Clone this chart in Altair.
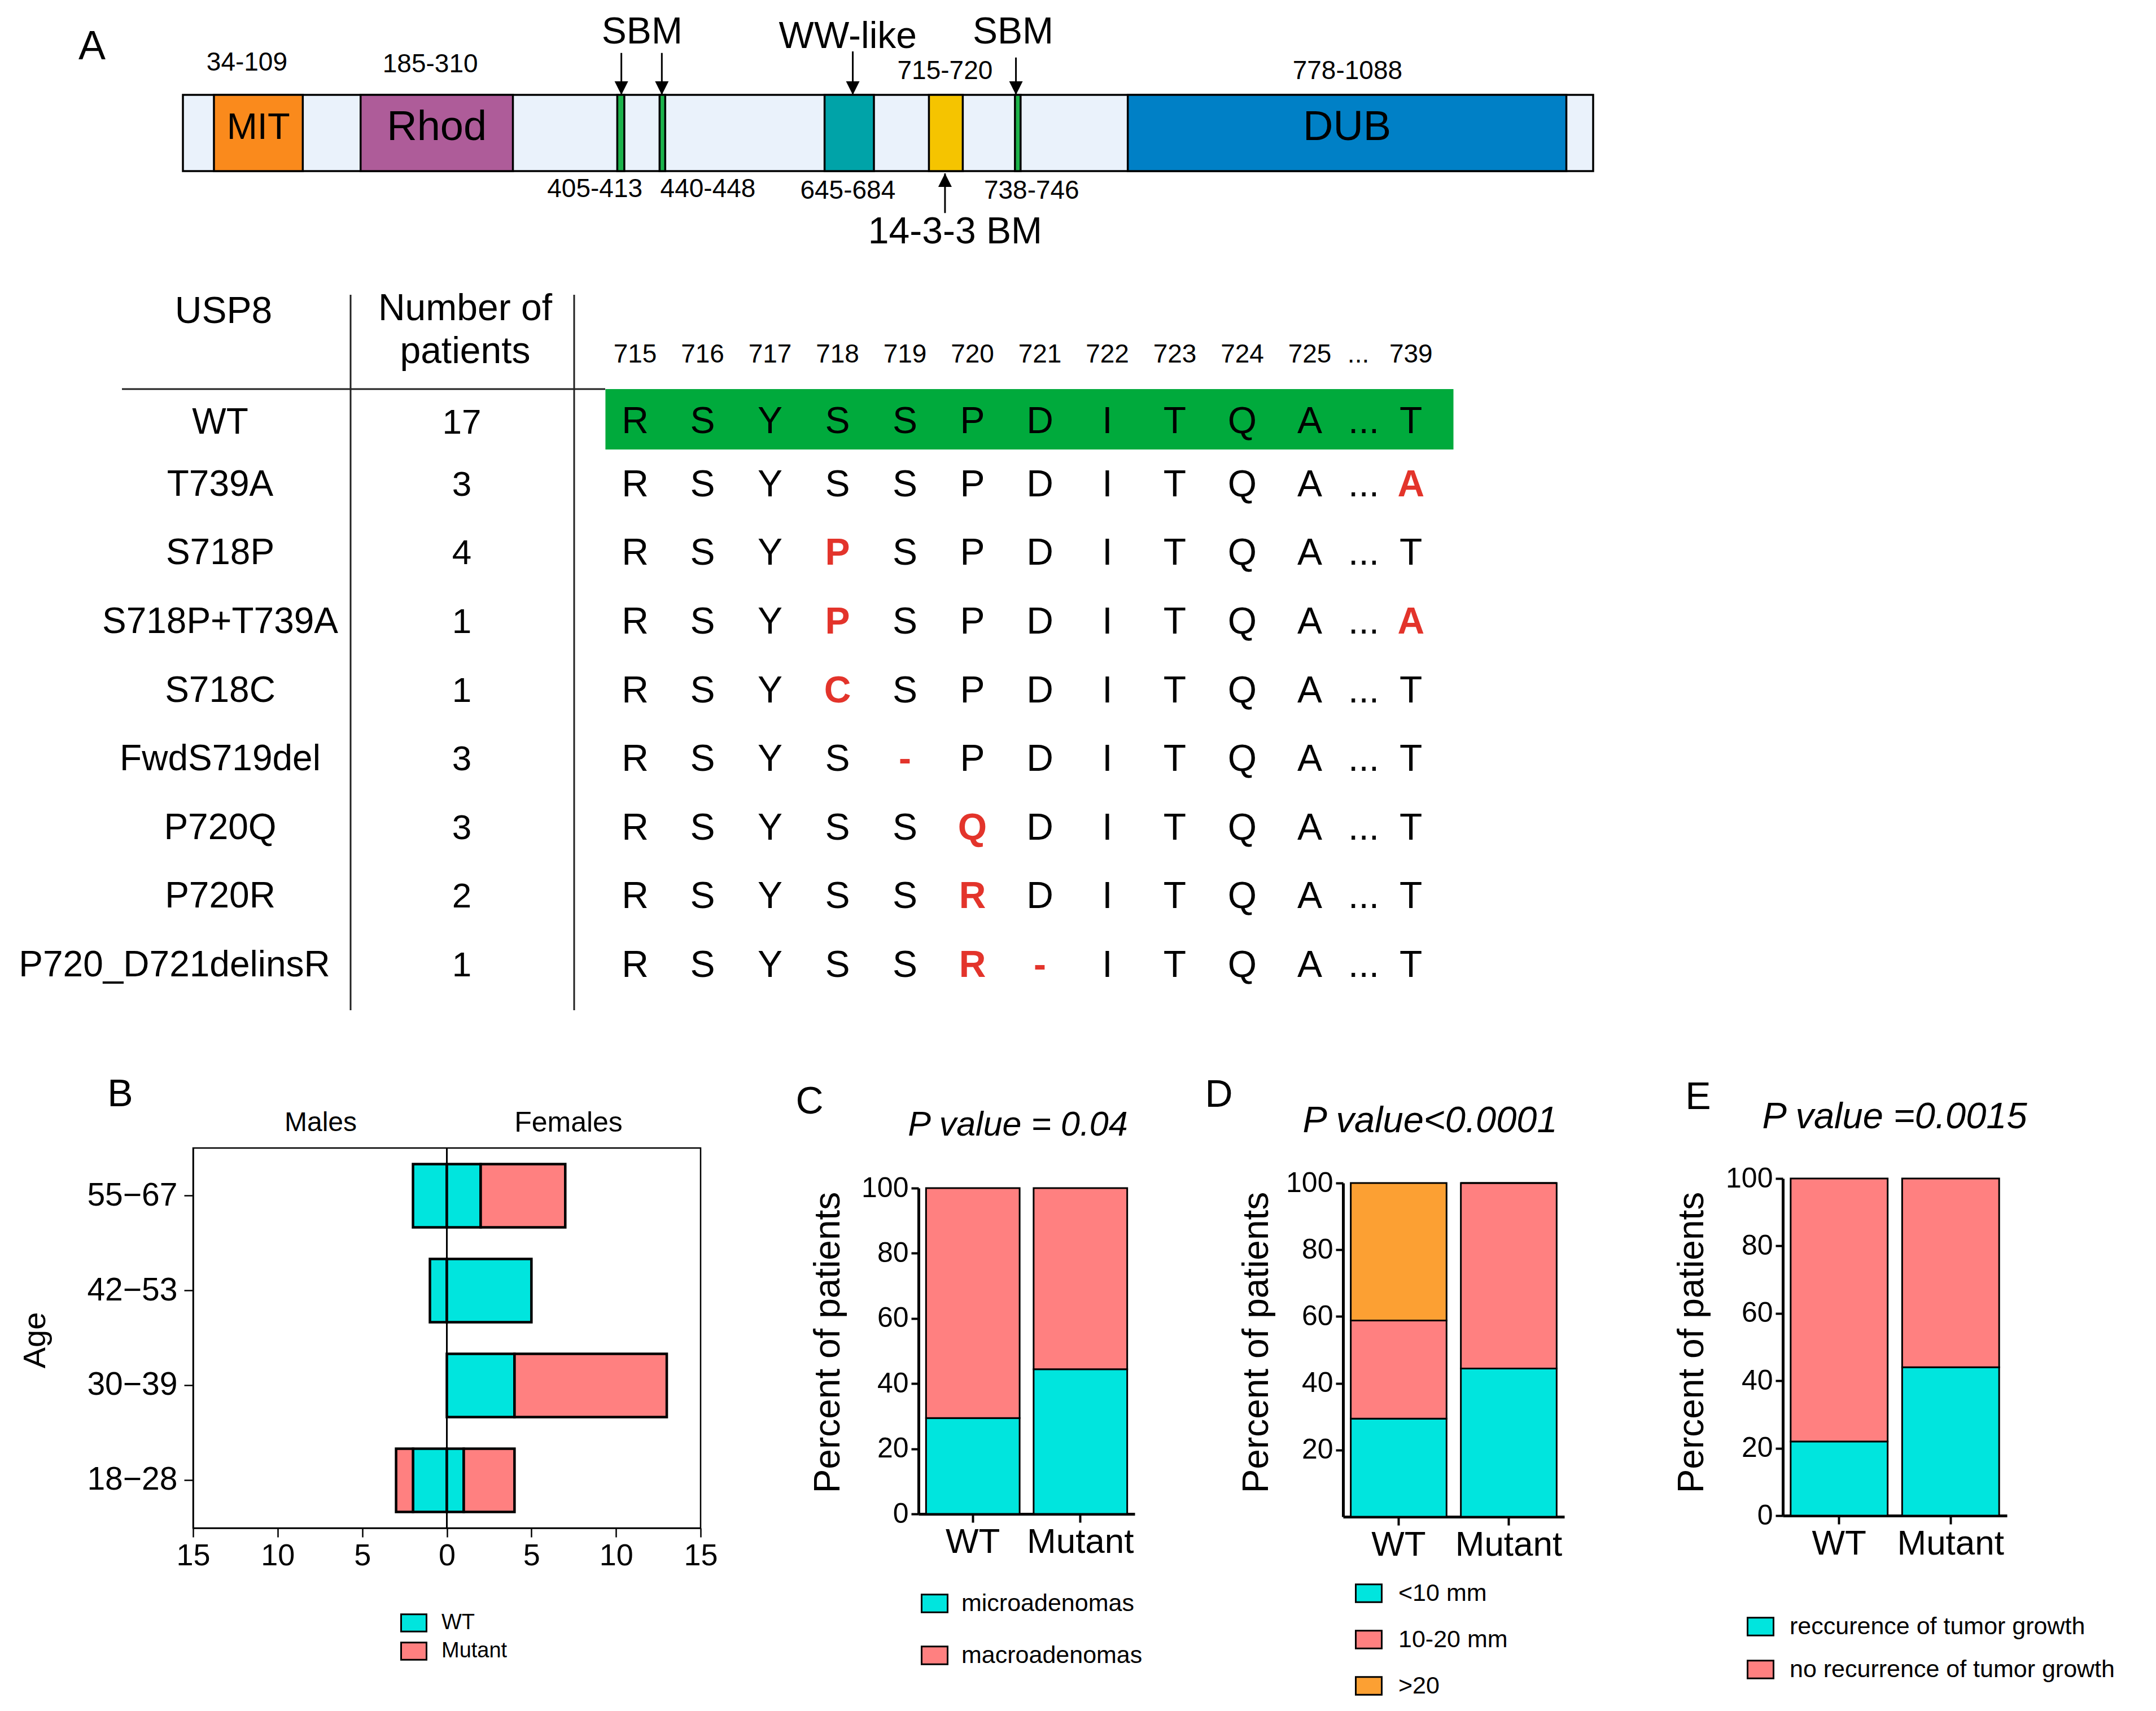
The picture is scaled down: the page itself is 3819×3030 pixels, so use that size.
import altair as alt
import pandas as pd

# ---------------- layout constants (reference pixel space) ----------------
W, H = 3803, 3014
OFF = 8


def P(v):
    return v - OFF


FONT = "Liberation Sans"
CYAN = "#00e5de"
SALMON = "#ff8080"
ORANGE = "#fca033"
RED = "#e3342b"
ROWGREEN = "#00aa3c"

# ---------------- Panel A : domain diagram data ----------------
dom_names = ["MIT", "Rhod", "SBM", "SBM", "WW-like", "14-3-3 BM", "SBM", "DUB"]
dom_start = [22, 126, 308, 338, 455, 529, 590, 670]      # schematic units (0-1000)
dom_end = [85, 234, 313, 342, 490, 553, 594, 981]
dom_color = ["#fa8a1c", "#ae5c99", "#1cb34b", "#1cb34b", "#00a3a8", "#f5c400", "#1cb34b", "#0080c6"]
dom_text = ["MIT", "Rhod", "", "", "", "", "", "DUB"]
dom_text_size = [65, 74, 0, 0, 0, 0, 0, 74]

range_text = ["34-109", "185-310", "715-720", "778-1088", "405-413", "440-448", "645-684", "738-746"]
range_x = [45.4, 175.4, 540.4, 825.8, 292.1, 372.3, 471.5, 601.8]
range_y = [1.42, 1.40, 1.31, 1.31, -0.235, -0.235, -0.257, -0.257]

motif_text = ["SBM", "WW-like", "SBM", "14-3-3 BM"]
motif_x = [325.6, 471.5, 588.7, 547.6]
motif_y = [1.82, 1.76, 1.82, -0.80]

arrow_x = [310.9, 339.6, 475.0, 590.7, 540.4]
arrow_tail = [1.55, 1.55, 1.57, 1.49, -0.55]
arrow_tip = [1.0, 1.0, 1.0, 1.0, -0.03]
arrow_dir = ["down", "down", "down", "down", "up"]

# ---------------- Table data ----------------
positions = ["715", "716", "717", "718", "719", "720", "721", "722", "723", "724", "725", "739"]
variants = ["WT", "T739A", "S718P", "S718P+T739A", "S718C", "FwdS719del", "P720Q", "P720R", "P720_D721delinsR"]
n_patients = [17, 3, 4, 1, 1, 3, 3, 2, 1]
sequences = ["RSYSSPDITQAT", "RSYSSPDITQAA", "RSYPSPDITQAT", "RSYPSPDITQAA", "RSYCSPDITQAT",
             "RSYS-PDITQAT", "RSYSSQDITQAT", "RSYSSRDITQAT", "RSYSSR-ITQAT"]

# ---------------- Panel B data ----------------
age_groups = ["55\u221267", "42\u221253", "30\u221239", "18\u221228"]
males_wt = [2, 1, 0, 2]
males_mut = [0, 0, 0, 1]
females_wt = [2, 5, 4, 1]
females_mut = [5, 0, 9, 3]
genotypes = ["WT", "Mutant"]

# ---------------- Panels C, D, E data ----------------
groups = ["WT", "Mutant"]
size_cats_C = ["microadenomas", "macroadenomas"]
micro_pct = [29.4, 44.4]
macro_pct = [70.6, 55.6]

size_cats_D = ["<10 mm", "10-20 mm", ">20"]
lt10_pct = [29.4, 44.4]
mid_pct = [29.4, 55.6]
gt20_pct = [41.2, 0.0]

cats_E = ["reccurence of tumor growth", "no recurrence of tumor growth"]
rec_pct = [22.0, 44.0]
norec_pct = [78.0, 56.0]

# =====================================================================
# Panel A
xA = alt.Scale(domain=[0, 1000], range=[P(324), P(2822)], nice=False, zero=False)
yA = alt.Scale(domain=[0, 1], range=[P(303), P(168)], nice=False, zero=False)


def XA(f):
    return alt.X(f, type="quantitative", scale=xA, axis=None)


def YA(f):
    return alt.Y(f, type="quantitative", scale=yA, axis=None)


bar_df = pd.DataFrame({"s": [0], "e": [1000], "b": [0], "t": [1]})
A_bg = alt.Chart(bar_df).mark_rect(fill="#eaf2fb", stroke="black", strokeWidth=3.5).encode(
    x=XA("s"), x2="e", y=YA("b"), y2="t")

dom_df = pd.DataFrame({"name": dom_names, "s": dom_start, "e": dom_end, "color": dom_color,
                       "label": dom_text, "fs": dom_text_size})
dom_df["b"] = 0
dom_df["t"] = 1
A_dom = alt.Chart(dom_df).mark_rect(stroke="black", strokeWidth=3.5).encode(
    x=XA("s"), x2="e", y=YA("b"), y2="t", fill=alt.Fill("color:N", scale=None, legend=None))
A_domtxt = alt.Chart(dom_df).transform_filter("datum.label != ''").transform_calculate(
    xc="(datum.s + datum.e) / 2", yc="0.57").mark_text(font=FONT, color="black").encode(
    x=XA("xc"), y=YA("yc"), text="label:N", size=alt.Size("fs:Q", scale=None, legend=None))

rng_df = pd.DataFrame({"t": range_text, "x": range_x, "y": range_y})
A_rng = alt.Chart(rng_df).mark_text(font=FONT, fontSize=46, color="black").encode(
    x=XA("x"), y=YA("y"), text="t:N")
mot_df = pd.DataFrame({"t": motif_text, "x": motif_x, "y": motif_y})
A_mot = alt.Chart(mot_df).mark_text(font=FONT, fontSize=66, color="black").encode(
    x=XA("x"), y=YA("y"), text="t:N")

arr_df = pd.DataFrame({"x": arrow_x, "y0": arrow_tail, "y1": arrow_tip, "dir": arrow_dir})
A_arrline = alt.Chart(arr_df).mark_rule(color="black", strokeWidth=3).encode(
    x=XA("x"), y=YA("y0"), y2="y1")
A_head_dn = alt.Chart(arr_df).transform_filter("datum.dir == 'down'").mark_point(
    shape="M-0.5,-1L0.5,-1L0,0Z", size=2304, filled=True, color="black", opacity=1).encode(
    x=XA("x"), y=YA("y1"))
A_head_up = alt.Chart(arr_df).transform_filter("datum.dir == 'up'").mark_point(
    shape="M-0.5,1L0.5,1L0,0Z", size=2304, filled=True, color="black", opacity=1).encode(
    x=XA("x"), y=YA("y1"))

panelA = alt.layer(A_bg, A_dom, A_domtxt, A_rng, A_mot, A_arrline, A_head_dn, A_head_up)

# =====================================================================
# Table
ROW0_PX, ROW8_PX = 737, 1710
ROW_STEP = (ROW8_PX - ROW0_PX) / 8.0


def rowu(px):
    return (px - ROW0_PX) / ROW_STEP


xT = alt.Scale(domain=[0, 10], range=[P(1125), P(2320)], nice=False, zero=False)
yT = alt.Scale(domain=[0, 8], range=[P(ROW0_PX), P(ROW8_PX)], nice=False, zero=False)


def XT(f):
    return alt.X(f, type="quantitative", scale=xT, axis=None)


def YT(f):
    return alt.Y(f, type="quantitative", scale=yT, axis=None)


COL_X = list(range(11)) + [11.5]
ELL_X = 10.8
HDR_ROW = rowu(628)

green_df = pd.DataFrame({"x0": [-0.44], "x1": [12.13], "y0": [rowu(689)], "y1": [rowu(796)]})
T_green = alt.Chart(green_df).mark_rect(fill=ROWGREEN).encode(x=XT("x0"), x2="x1", y=YT("y0"), y2="y1")

hdr_rows = [{"t": p, "x": COL_X[i], "y": HDR_ROW} for i, p in enumerate(positions)]
hdr_rows.append({"t": "...", "x": 10.72, "y": HDR_ROW})
T_hdr = alt.Chart(pd.DataFrame(hdr_rows)).mark_text(font=FONT, fontSize=46, color="black").encode(
    x=XT("x"), y=YT("y"), text="t:N")

res_rows = []
for r, seq in enumerate(sequences):
    for k, ch in enumerate(seq):
        res_rows.append({"row": r, "x": COL_X[k], "ch": ch, "red": ch != sequences[0][k]})
    res_rows.append({"row": r, "x": ELL_X, "ch": "...", "red": False})
res_df = pd.DataFrame(res_rows)
# the WT row sits centred in its green band
res_df["yy"] = res_df["row"].astype(float)
res_df.loc[res_df["row"] == 0, "yy"] = rowu(747)
T_res_black = alt.Chart(res_df).transform_filter("!datum.red").mark_text(
    font=FONT, fontSize=66, color="black").encode(x=XT("x"), y=YT("yy"), text="ch:N")
T_res_red = alt.Chart(res_df).transform_filter("datum.red").mark_text(
    font=FONT, fontSize=66, color=RED, fontWeight="bold").encode(x=XT("x"), y=YT("yy"), text="ch:N")

var_df = pd.DataFrame({"v": variants, "n": n_patients, "row": [float(i) for i in range(len(variants))]})
var_df.loc[0, "row"] = rowu(749)
var_df["long"] = var_df["v"].str.len() > 12
T_var = alt.Chart(var_df).transform_filter("!datum.long").mark_text(
    font=FONT, fontSize=64, color="black").encode(x=alt.value(P(390)), y=YT("row"), text="v:N")
T_var_long = alt.Chart(var_df).transform_filter("datum.long").mark_text(
    font=FONT, fontSize=64, color="black").encode(x=alt.value(P(309)), y=YT("row"), text="v:N")
T_n = alt.Chart(var_df).mark_text(font=FONT, fontSize=62, color="black").encode(
    x=alt.value(P(818)), y=YT("row"), text="n:Q")

vl_df = pd.DataFrame({"y0": [rowu(522)], "y1": [rowu(1789)]})
T_v1 = alt.Chart(vl_df).mark_rule(color="#222", strokeWidth=3).encode(x=alt.value(P(621)), y=YT("y0"), y2="y1")
T_v2 = alt.Chart(vl_df).mark_rule(color="#222", strokeWidth=3).encode(x=alt.value(P(1017)), y=YT("y0"), y2="y1")
hl_df = pd.DataFrame({"y": [rowu(689)]})
T_h = alt.Chart(hl_df).mark_rule(color="#222", strokeWidth=3).encode(
    x=alt.value(P(216)), x2=alt.value(P(1072)), y=YT("y"))

table = alt.layer(T_green, T_hdr, T_res_black, T_res_red, T_var, T_var_long, T_n, T_v1, T_v2, T_h)

# =====================================================================
# Panel B (population pyramid)
seg = []
for i, g in enumerate(age_groups):
    seg.append((g, "WT", -males_wt[i], 0))
    seg.append((g, "Mutant", -(males_wt[i] + males_mut[i]), -males_wt[i]))
    seg.append((g, "WT", 0, females_wt[i]))
    seg.append((g, "Mutant", females_wt[i], females_wt[i] + females_mut[i]))
dfB = pd.DataFrame(seg, columns=["age", "genotype", "x0", "x1"])
dfB = dfB[dfB["x0"] != dfB["x1"]]

B_L, B_R, B_T, B_B = 342, 1241, 2033, 2706
xB = alt.Scale(domain=[-15, 15], range=[P(B_L), P(B_R)], nice=False, zero=False)
yB = alt.Scale(domain=age_groups, range=[P(B_T), P(B_B)], paddingInner=0.333, paddingOuter=0.17)
LEG_SYM = "M-1,-0.68L1,-0.68L1,0.68L-1,0.68Z"

B_bars = alt.Chart(dfB).mark_bar(stroke="black", strokeWidth=4.5).encode(
    x=alt.X("x0:Q", scale=xB, axis=alt.Axis(
        orient="bottom", offset=P(B_B) - H, values=[-15, -10, -5, 0, 5, 10, 15],
        labelExpr="datum.value < 0 ? '' + (-datum.value) : '' + datum.value",
        labelFlush=False, labelOverlap=False,
        tickSize=16, tickWidth=2.5, domainWidth=2.5,
        labelFontSize=54, labelPadding=6, labelLimit=0, title=None)),
    x2="x1:Q",
    y=alt.Y("age:N", scale=yB, sort=age_groups, axis=alt.Axis(
        orient="left", offset=-P(B_L), tickSize=16, tickWidth=2.5, domainWidth=2.5,
        labelFontSize=57, labelPadding=12, labelLimit=0, title="Age", titleFontSize=56,
        titleX=62 - B_L, titleY=P(2373), titleAngle=270, titleAlign="center",
        titleBaseline="middle")),
    color=alt.Color("genotype:N", scale=alt.Scale(domain=genotypes, range=[CYAN, SALMON]),
                    legend=alt.Legend(orient="none", legendX=P(709), legendY=P(2850), title=None,
                                      symbolType=LEG_SYM, symbolSize=2025, symbolStrokeColor="black",
                                      symbolStrokeWidth=3, symbolOpacity=1, labelFontSize=38,
                                      labelOffset=25, rowPadding=4, padding=0, labelLimit=0)),
)
dummy = pd.DataFrame({"d": [0]})
B_frame = alt.Chart(dummy).mark_rect(fill=None, filled=False, stroke="black", strokeWidth=2.5).encode(
    x=alt.value(P(B_L)), x2=alt.value(P(B_R)), y=alt.value(P(B_T)), y2=alt.value(P(B_B)))
B_zero = alt.Chart(dummy).mark_rule(color="black", strokeWidth=3).encode(
    x=alt.value(P((B_L + B_R) / 2)), y=alt.value(P(B_T)), y2=alt.value(P(B_B)))
panelB = alt.layer(B_bars, B_frame, B_zero)


# =====================================================================
# Stacked percentage panels
def stacked(df, cats, colors, x_left, x_right, y_zero, y_top, title_x, yvals, leg):
    xs = alt.Scale(domain=groups, range=[P(x_left), P(x_right)], paddingInner=0.13, paddingOuter=0.07)
    ys = alt.Scale(domain=[0, 100], range=[P(y_zero), P(y_top)], nice=False, zero=True)
    return alt.Chart(df).mark_bar(stroke="black", strokeWidth=3).encode(
        x=alt.X("group:N", sort=groups, scale=xs, axis=alt.Axis(
            orient="bottom", offset=P(y_zero) - H, labelAngle=0, labelFontSize=62, labelPadding=4,
            labelLimit=0, tickSize=15, tickWidth=4, domainWidth=5, title=None)),
        y=alt.Y("pct:Q", stack="zero", scale=ys, axis=alt.Axis(
            orient="left", offset=-P(x_left), values=yvals, tickSize=13, tickWidth=4, domainWidth=5,
            labelFontSize=50, labelPadding=5, labelLimit=0, labelFlush=False,
            title="Percent of patients", titleFontSize=64,
            titleX=title_x - x_left, titleY=P(2377), titleAngle=270, titleAlign="center",
            titleBaseline="middle")),
        color=alt.Color("cat:N", scale=alt.Scale(domain=cats, range=colors), legend=alt.Legend(
            orient="none", title=None, symbolType=LEG_SYM, symbolSize=2116, symbolStrokeColor="black",
            symbolStrokeWidth=3, symbolOpacity=1, labelFontSize=43, padding=0, labelLimit=0, **leg)),
        order=alt.Order("k:Q", sort="ascending"),
    )


dfC = pd.DataFrame({"group": groups * 2, "cat": [size_cats_C[0]] * 2 + [size_cats_C[1]] * 2,
                    "pct": micro_pct + macro_pct, "k": [0, 0, 1, 1]})
panelC = stacked(dfC, size_cats_C, [CYAN, SALMON], 1627, 2010, 2681, 2104, 1467,
                 [0, 20, 40, 60, 80, 100],
                 dict(legendX=P(1631), legendY=P(2815), labelOffset=23, rowPadding=45))

dfD = pd.DataFrame({"group": groups * 3,
                    "cat": [size_cats_D[0]] * 2 + [size_cats_D[1]] * 2 + [size_cats_D[2]] * 2,
                    "pct": lt10_pct + mid_pct + gt20_pct, "k": [0, 0, 1, 1, 2, 2]})
panelD = stacked(dfD, size_cats_D, [CYAN, SALMON, ORANGE], 2379, 2771, 2686, 2095, 2226,
                 [20, 40, 60, 80, 100],
                 dict(legendX=P(2400), legendY=P(2797), labelOffset=28, rowPadding=35))

dfE = pd.DataFrame({"group": groups * 2, "cat": [cats_E[0]] * 2 + [cats_E[1]] * 2,
                    "pct": rec_pct + norec_pct, "k": [0, 0, 1, 1]})
panelE = stacked(dfE, cats_E, [CYAN, SALMON], 3158, 3555, 2684, 2087, 2997,
                 [0, 20, 40, 60, 80, 100],
                 dict(legendX=P(3094), legendY=P(2856), labelOffset=27, rowPadding=29))


# =====================================================================
# Annotations (panel letters, headers, titles)
def ann(text, x, y, size, style="normal"):
    return alt.Chart(dummy).mark_text(text=text, font=FONT, fontSize=size, fontStyle=style,
                                      color="black", align="center", baseline="middle").encode(
        x=alt.value(P(x)), y=alt.value(P(y)))


anns = [
    ann("A", 163, 83, 72),
    ann("B", 213, 1939, 68),
    ann("C", 1434, 1952, 68),
    ann("D", 2159, 1940, 68),
    ann("E", 3008, 1944, 68),
    ann("USP8", 396, 552, 66),
    ann("Number of", 824, 547, 66),
    ann("patients", 824, 623, 66),
    ann("Males", 568, 1989, 48),
    ann("Females", 1007, 1989, 50),
    ann("P value = 0.04", 1803, 1993, 61, "italic"),
    ann("P value<0.0001", 2533, 1985, 65, "italic"),
    ann("P value =0.0015", 3356, 1978, 65, "italic"),
]

chart = alt.layer(panelA, table, panelB, panelC, panelD, panelE, *anns).resolve_scale(
    x="independent", y="independent", color="independent", fill="independent", size="independent"
).resolve_axis(x="independent", y="independent").resolve_legend(color="independent").properties(
    width=W, height=H, padding=0, autosize=alt.AutoSizeParams(type="none")
).configure_view(stroke=None).configure_axis(
    grid=False, labelFont=FONT, titleFont=FONT, labelColor="black", titleColor="black",
    domainColor="black", tickColor="black", titleFontWeight="normal"
).configure_legend(labelFont=FONT, labelColor="black").configure_text(font=FONT)

chart.save("out.html", embed_options={"renderer": "svg", "actions": False})
